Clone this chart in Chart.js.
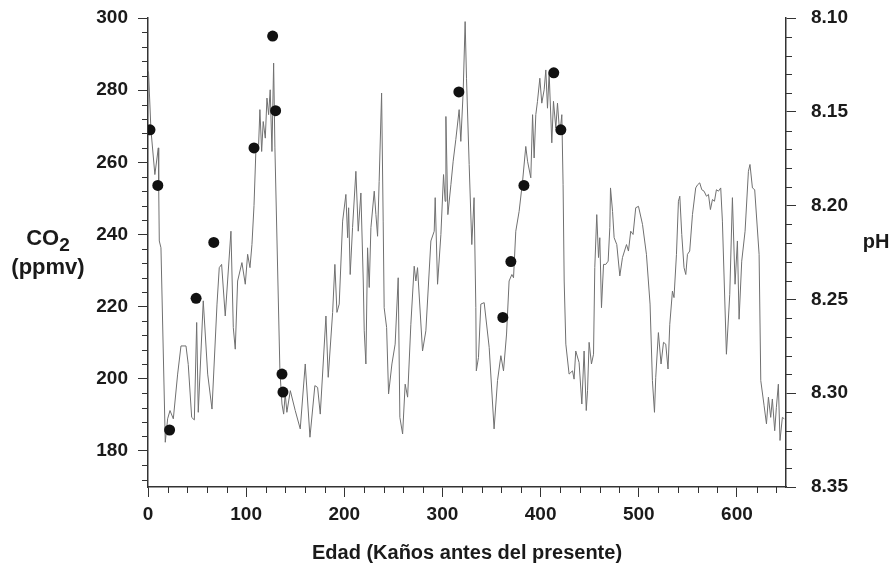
<!DOCTYPE html>
<html>
<head>
<meta charset="utf-8">
<script src="https://cdn.jsdelivr.net/npm/chart.js@4.4.1/dist/chart.umd.min.js"></script>
<style>
  body { margin: 0; background: #fff; }
</style>
</head>
<body>
<canvas id="co2Chart" width="895" height="572"></canvas>
<script>
// Registro de CO2 (núcleo de hielo): edad en kaños y CO2 en ppmv
const ages = [
  0.5, 3, 7, 10.5, 10.9, 11.5, 13.2, 17.6, 20, 22.4, 25.8, 30.2, 33.6, 38.7, 41, 44.5,
  47.2, 49.6, 51.2, 56.3, 60.8, 65.2, 70.3, 72.6, 75, 78.7, 84.5, 86.9, 88.9, 91.3, 95.7,
  99.1, 101.5, 103.9, 105.9, 108, 110, 112.7, 114, 115.8, 117.4, 119.5, 121.2, 122.9,
  124.5, 126.3, 128, 129.3, 134.4, 136.5, 138.2, 139.8, 141.5, 145, 150, 155.1, 160.2,
  165, 170, 172.8, 175.5, 181.3, 183.6, 188.1, 190.4, 192.5, 194.8, 198.3, 201.6, 203.4,
  204.4, 206, 208.4, 211.8, 214.2, 216.9, 219.3, 220.3, 222, 223.7, 225.4, 227.1, 230.5,
  232.2, 233.9, 235.5, 238, 239.6, 240.6, 243.1, 245.1, 248.5, 251.8, 254.9, 256.6,
  259.4, 262, 264.5, 267.8, 271.2, 272.9, 274.6, 279.7, 283.1, 288.2, 291.6, 292.6, 295,
  298.4, 301.1, 302.7, 303.5, 305.5, 308.6, 310.9, 313.6, 317, 318.7, 321.1, 323.1,
  324.5, 327.2, 329.9, 332.2, 334, 334.5, 336.7, 339.1, 342.5, 347.6, 352.6, 356.1,
  359.5, 362.2, 365.3, 367.9, 370.7, 372.4, 374.7, 378.1, 381.6, 384.9, 386.7, 390,
  391.8, 393.4, 395.1, 396.8, 399.2, 401.2, 403.6, 405.3, 407, 408.7, 411.4, 413.1,
  415.5, 417.2, 419.5, 421.6, 422.9, 424, 425.7, 429, 432.5, 434.1, 435.8, 439.2, 442,
  444.3, 446.5, 447.8, 449.4, 451.8, 453.9, 455.2, 457.2, 459, 460.3, 462, 464.1, 466.4,
  468.8, 470.5, 471.2, 473.3, 474.9, 477.6, 480.7, 483.4, 487.5, 489.5, 491.8, 494.2,
  496.9, 499.7, 503.8, 507.8, 511.5, 513.9, 516, 517.3, 520, 522.7, 525.2, 527.5, 529.8,
  531.6, 534.3, 535.9, 538.4, 540.4, 541.8, 543.8, 546.1, 547.9, 549.6, 551.9, 554.7,
  558, 560, 562.1, 564.2, 566.5, 569, 571, 573, 575.1, 577.1, 579.1, 581.2, 583.5,
  585.2, 589.3, 592.7, 595.4, 598.1, 600.5, 602.2, 604.9, 608.3, 611.7, 613.3, 615.8,
  618.1, 622.6, 624.3, 627.7, 630.1, 632.1, 634.4, 636.1, 638.5, 640.2, 642.2, 643.9,
  646.3, 648.3
];
const co2 = [
  285.2, 269, 256.6, 264, 253.4, 238.2, 236.3, 182.4, 188.9, 191.2, 188.9, 201.3, 209.1,
  209.1, 204, 189.3, 188.6, 215.6, 190.7, 221.6, 201.3, 191.6, 220.7, 230.8, 231.7, 217.4,
  240.9, 214.2, 208.2, 227.1, 232.2, 226.2, 234.5, 230.8, 237.2, 248, 264, 264.9, 274.6,
  263, 271.3, 266.7, 277.8, 273.2, 280.1, 263, 287.5, 264, 202.2, 193, 190.2, 195.8,
  190.7, 196.7, 191.2, 186.1, 204.1, 183.8, 198.1, 197.6, 190.2, 217.4, 200.4, 218.4,
  231.7, 218.4, 220.7, 243.7, 251.1, 239.1, 247.4, 228.9, 241.9, 257.5, 240.9, 251.5,
  227.1, 213.3, 204.1, 236.3, 225.3, 241.9, 252, 245.5, 239.5, 254.7, 279.2, 243.7,
  219.7, 214.2, 195.8, 204.1, 209.6, 228, 189.3, 184.7, 198.5, 194.9, 215.1, 231.2,
  227.1, 230.8, 207.7, 213.3, 238.2, 240.9, 250.2, 226.2, 240, 256.6, 249.2, 272.7,
  245.5, 253.8, 260.3, 266.3, 274.6, 265.8, 279.6, 299, 283.3, 259.4, 237.2, 250.2,
  219.7, 202.2, 205.9, 220.7, 221.1, 208.7, 186.1, 199.5, 206.4, 202.2, 212.4, 227.1,
  228.9, 228, 240.9, 246.4, 254.7, 264.4, 260.3, 255.7, 273.2, 261.2, 273.2, 276.9,
  283.3, 276.4, 280.1, 285.6, 275, 284.7, 265.4, 276.9, 269.5, 276.4, 267.7, 273.2,
  253.8, 227.1, 209.6, 201.3, 202.2, 199.9, 207.7, 204.5, 193, 207.7, 191.2, 196.7,
  210.1, 204.1, 206.8, 230.8, 245.5, 233.6, 239.1, 219.7, 231.7, 231.7, 232.6, 241.9,
  252.9, 246.4, 239.1, 237.2, 228.5, 233.6, 237.2, 235.4, 240.9, 240, 247.4, 247.8,
  242.8, 234.5, 220.7, 199.5, 190.7, 200.4, 212.8, 204.1, 210.1, 209.6, 202.7, 215.1,
  224.3, 222.5, 234.5, 249.2, 250.6, 240, 230.8, 228.9, 234.5, 235.4, 245.5, 252.9,
  253.8, 254.3, 252.4, 252, 250.6, 251.1, 246.9, 249.7, 249.2, 252.4, 252, 252.9,
  243.7, 206.8, 223.4, 250.2, 226.2, 238.2, 216.5, 232.6, 240.9, 257.5, 259.4, 252.9,
  252.4, 234.5, 199.5, 192.5, 187.5, 194.9, 189.3, 194.4, 185.6, 192.1, 198.5, 182.9,
  189.3, 188.9
];

// Puntos (círculos negros)
const dotAges = [2, 10, 22, 49, 67, 108, 127, 130, 136.5, 137.5, 316.7, 361.5, 369.7, 383, 413.4, 420.6];
const dotCo2 = [269, 253.6, 185.8, 222.3, 237.8, 264, 295, 274.3, 201.3, 196.3, 279.5, 217, 232.5, 253.6, 284.8, 269];

// Marcas principales con etiqueta
const xTicks = [0, 100, 200, 300, 400, 500, 600];
const co2Ticks = [180, 200, 220, 240, 260, 280, 300];
const phTicks = [8.10, 8.15, 8.20, 8.25, 8.30, 8.35];

// Ejes
const xMin = 0, xMax = 650, xMinor = 20;
const co2Min = 170, co2Max = 300, co2Minor = 4;
const phMin = 8.10, phMax = 8.35, phMinor = 0.01;

const FONT = "'Liberation Sans', Arial, Helvetica, sans-serif";
const INK = "#1a1a1a";
const AXIS = "#333";

const setTicks = values => scale => { scale.ticks = values.map(v => ({ value: v })); };

// tamaño fijo de cada eje, sin margen extra por las etiquetas de los extremos
const fixSize = (w, h) => s => {
    if (w != null) s.width = w;
    if (h != null) s.height = h;
    s.paddingTop = 0;
    s.paddingBottom = 0;
    s.paddingLeft = 0;
    s.paddingRight = 0;
};

// marcas menores + títulos horizontales de los ejes verticales
const axisExtras = {
    id: "axisExtras",
    afterDraw(chart) {
        const ctx = chart.ctx;
        const { x, y, y2 } = chart.scales;
        const area = chart.chartArea;
        ctx.save();
        ctx.strokeStyle = AXIS;
        ctx.lineWidth = 1;
        ctx.beginPath();
        for (let v = xMin + xMinor; v <= xMax; v += xMinor) {
            if (xTicks.includes(v)) continue;
            const px = Math.round(x.getPixelForValue(v)) + 0.5;
            ctx.moveTo(px, area.bottom);
            ctx.lineTo(px, area.bottom + 6);
        }
        for (let v = co2Min + 2; v < co2Max; v += co2Minor) {
            if (co2Ticks.includes(v)) continue;
            const py = Math.round(y.getPixelForValue(v)) + 0.5;
            ctx.moveTo(area.left - 6, py);
            ctx.lineTo(area.left, py);
        }
        for (let i = 1; i < 25; i++) {
            if (i % 5 === 0) continue;
            const py = Math.round(y2.getPixelForValue(phMin + i * phMinor)) + 0.5;
            ctx.moveTo(area.right, py);
            ctx.lineTo(area.right + 6, py);
        }
        ctx.stroke();

        ctx.fillStyle = INK;
        ctx.textBaseline = "middle";
        // CO2 con subíndice
        ctx.font = "bold 22px " + FONT;
        const coW = ctx.measureText("CO").width;
        ctx.font = "bold 19px " + FONT;
        const subW = ctx.measureText("2").width;
        const cx = 48;
        const startX = cx - (coW + subW) / 2;
        ctx.font = "bold 22px " + FONT;
        ctx.textAlign = "left";
        ctx.fillText("CO", startX, 239);
        ctx.font = "bold 19px " + FONT;
        ctx.fillText("2", startX + coW, 246);
        ctx.font = "bold 22px " + FONT;
        ctx.textAlign = "center";
        ctx.fillText("(ppmv)", cx, 268);
        ctx.font = "bold 20px " + FONT;
        ctx.fillText("pH", 876, 242);
        ctx.restore();
    }
};

const tickFont = { family: FONT, size: 19, weight: "bold" };
const gridStyle = { drawOnChartArea: false, drawTicks: true, tickLength: 10, tickColor: AXIS, tickWidth: 1 };
const borderStyle = { display: true, color: AXIS, width: 1.5 };

new Chart(document.getElementById("co2Chart"), {
    type: "scatter",
    data: {
        datasets: [
            {
                label: "Puntos",
                data: dotAges.map((a, i) => ({ x: a, y: dotCo2[i] })),
                pointRadius: 5.5,
                pointBackgroundColor: "#111",
                pointBorderWidth: 0,
                order: 0
            },
            {
                label: "CO2",
                data: ages.map((a, i) => ({ x: a, y: co2[i] })),
                showLine: true,
                borderColor: "#707070",
                borderWidth: 1,
                pointRadius: 0,
                tension: 0,
                order: 1
            }
        ]
    },
    options: {
        responsive: false,
        animation: false,
        layout: { padding: { top: 18, left: 0, right: 0, bottom: 0 } },
        plugins: {
            legend: { display: false },
            tooltip: { enabled: false }
        },
        scales: {
            x: {
                type: "linear",
                min: xMin,
                max: xMax,
                afterBuildTicks: setTicks(xTicks),
                afterFit: fixSize(null, 85),
                border: borderStyle,
                grid: gridStyle,
                ticks: {
                    autoSkip: false,
                    maxRotation: 0,
                    padding: 6,
                    color: INK,
                    font: tickFont,
                    callback: v => String(v)
                },
                title: {
                    display: true,
                    text: "Edad (Kaños antes del presente)",
                    color: INK,
                    font: { family: FONT, size: 20, weight: "bold" },
                    padding: { top: 0, bottom: 7 }
                }
            },
            y: {
                type: "linear",
                position: "left",
                min: co2Min,
                max: co2Max,
                afterBuildTicks: setTicks(co2Ticks),
                afterFit: fixSize(148, null),
                border: borderStyle,
                grid: gridStyle,
                ticks: {
                    autoSkip: false,
                    padding: 10,
                    color: INK,
                    font: tickFont,
                    callback: v => String(v)
                }
            },
            y2: {
                type: "linear",
                position: "right",
                reverse: true,
                min: phMin,
                max: phMax,
                afterBuildTicks: setTicks(phTicks),
                afterFit: fixSize(109, null),
                border: borderStyle,
                grid: gridStyle,
                ticks: {
                    autoSkip: false,
                    padding: 15,
                    color: INK,
                    font: tickFont,
                    callback: v => v.toFixed(2)
                }
            }
        }
    },
    plugins: [axisExtras]
});
</script>
</body>
</html>
